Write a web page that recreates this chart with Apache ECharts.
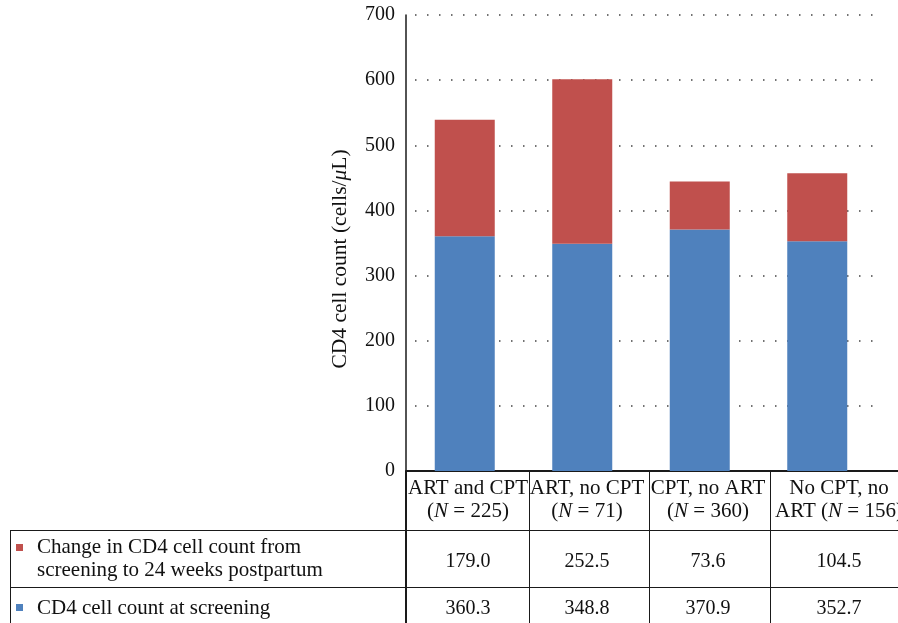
<!DOCTYPE html>
<html>
<head>
<meta charset="utf-8">
<script src="https://cdn.jsdelivr.net/npm/echarts@6/dist/echarts.min.js"></script>
<style>
  html, body { margin: 0; padding: 0; background: #fff; }
  #chart { width: 898px; height: 623px; }
</style>
</head>
<body>
<div id="chart"></div>
<script>
// Treatment groups (label line 1, group size)
const groupNames = ['ART and CPT', 'ART, no CPT', 'CPT, no ART', 'No CPT, no'];
const groupPrefix = ['', '', '', 'ART '];
const groupN = [225, 71, 360, 156];

// CD4 values (cells/μL)
const cd4Screening = [360.3, 348.8, 370.9, 352.7];
const cd4Change = [179.0, 252.5, 73.6, 104.5];

const yTicks = [0, 100, 200, 300, 400, 500, 600, 700];

const seriesNames = [
  'Change in CD4 cell count from\nscreening to 24 weeks postpartum',
  'CD4 cell count at screening'
];
const RED = '#C0504D';
const BLUE = '#4F81BD';
const FONT = '"Liberation Serif", "DejaVu Serif", serif';

const chart = echarts.init(document.getElementById('chart'));

// data table drawn under the plot
const colLines = [406, 529, 649, 770];
const colCenters = [468, 587, 708, 839];
const headY = 471, row1Y = 530, row2Y = 587, bottomY = 623;
const g = [];
const line = (x1, y1, x2, y2, w) => g.push({
  type: 'line', shape: { x1, y1, x2, y2 },
  style: { stroke: '#1a1a1a', lineWidth: w || 1 }, silent: true
});
line(870, headY, 898, headY, 2);
line(10, row1Y + 0.5, 898, row1Y + 0.5);
line(10, row2Y + 0.5, 898, row2Y + 0.5);
line(10.5, row1Y, 10.5, bottomY);
line(406, headY, 406, bottomY, 2);
colLines.slice(1).forEach(x => line(x + 0.5, headY, x + 0.5, bottomY));

const txt = (x, y, text, extra) => g.push(Object.assign({
  type: 'text', x, y, silent: true,
  style: Object.assign({
    text, fill: '#111', font: '20px ' + FONT,
    textAlign: 'center', textVerticalAlign: 'middle'
  }, extra || {})
}));

groupNames.forEach((name, i) => {
  txt(colCenters[i], 488, name, { font: '21px ' + FONT });
  g.push({
    type: 'text', x: colCenters[i], y: 511, silent: true,
    style: {
      text: '{n|' + groupPrefix[i] + '(}{i|N}{n| = ' + groupN[i] + ')}',
      textAlign: 'center', textVerticalAlign: 'middle',
      rich: {
        n: { fontFamily: FONT, fontSize: 21, fill: '#111' },
        i: { fontFamily: FONT, fontSize: 21, fontStyle: 'italic', fill: '#111' }
      }
    }
  });
  txt(colCenters[i], 562, cd4Change[i].toFixed(1));
  txt(colCenters[i], 609, cd4Screening[i].toFixed(1));
});

// legend keys in the first column
g.push({ type: 'rect', shape: { x: 16, y: 544, width: 7, height: 7 }, style: { fill: RED }, silent: true });
g.push({ type: 'rect', shape: { x: 16, y: 604, width: 7, height: 7 }, style: { fill: BLUE }, silent: true });
txt(37, 559, seriesNames[0], { textAlign: 'left', lineHeight: 23, font: '21px ' + FONT });
txt(37, 608, seriesNames[1], { textAlign: 'left', font: '21px ' + FONT });

// y-axis title
g.push({
  type: 'text', x: 340, y: 259, rotation: Math.PI / 2, silent: true,
  style: {
    text: '{n|CD4 cell count (cells/}{i|μ}{n|L)}',
    textAlign: 'center', textVerticalAlign: 'middle',
    rich: {
      n: { fontFamily: FONT, fontSize: 21.5, fill: '#111' },
      i: { fontFamily: FONT, fontSize: 21.5, fontStyle: 'italic', fill: '#111' }
    }
  }
});

chart.setOption({
  animation: false,
  backgroundColor: '#fff',
  grid: { left: 406, right: 22, top: 15, bottom: 152, containLabel: false },
  xAxis: {
    type: 'category',
    data: groupNames,
    axisLine: { show: true, lineStyle: { color: '#1a1a1a', width: 2 } },
    axisTick: { show: false },
    axisLabel: { show: false }
  },
  yAxis: {
    type: 'value',
    min: yTicks[0], max: yTicks[yTicks.length - 1], interval: 100,
    axisLine: { show: true, lineStyle: { color: '#1a1a1a', width: 1.5 } },
    axisTick: { show: false },
    axisLabel: { margin: 11, fontFamily: FONT, fontSize: 20, color: '#111' },
    splitLine: {
      show: true,
      lineStyle: { color: '#444', width: 1.5, type: [1.5, 10.5], dashOffset: -9 }
    }
  },
  series: [
    {
      name: seriesNames[1], type: 'bar', stack: 'cd4', barWidth: 60,
      itemStyle: { color: BLUE }, data: cd4Screening
    },
    {
      name: seriesNames[0], type: 'bar', stack: 'cd4', barWidth: 60,
      itemStyle: { color: RED }, data: cd4Change
    }
  ],
  graphic: g
});
</script>
</body>
</html>
